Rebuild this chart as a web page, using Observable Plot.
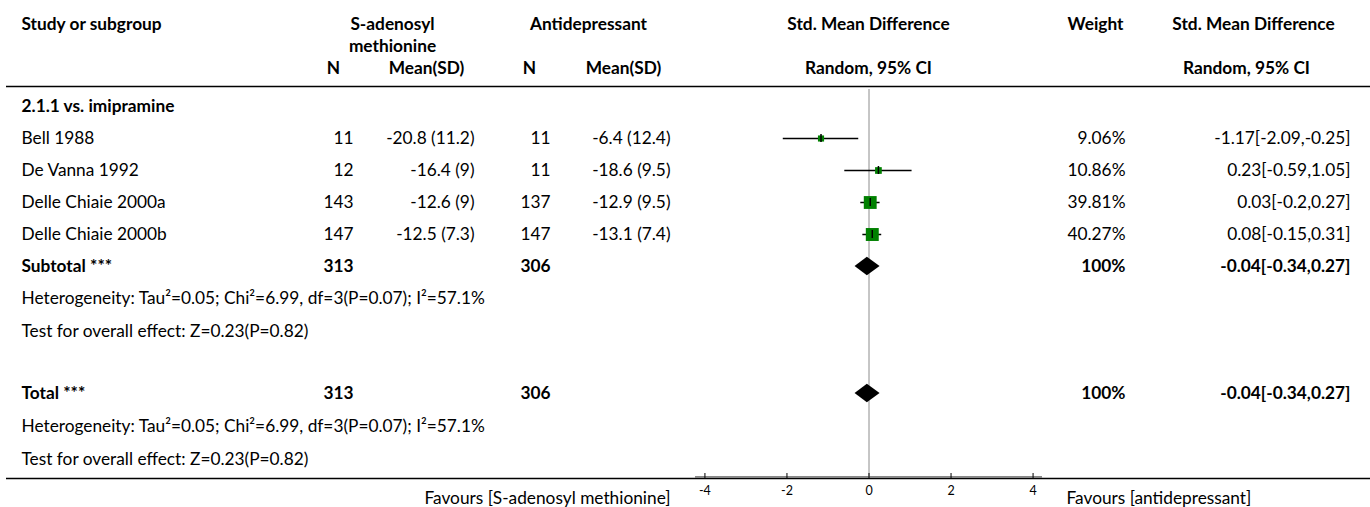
<!DOCTYPE html>
<html>
<head>
<meta charset="utf-8">
<script src="https://cdn.jsdelivr.net/npm/d3@7"></script>
<script src="https://cdn.jsdelivr.net/npm/@observablehq/plot@0.6"></script>
<style>
  html, body { margin: 0; padding: 0; background: #fff; }
  svg { display: block; }
</style>
</head>
<body>
<div id="chart"></div>
<script>
// ---------------- data ----------------
const subgroupLabel = "2.1.1 vs. imipramine";
const studies   = ["Bell 1988", "De Vanna 1992", "Delle Chiaie 2000a", "Delle Chiaie 2000b"];
const nSame     = [11, 12, 143, 147];
const meanSame  = [-20.8, -16.4, -12.6, -12.5];
const sdSame    = [11.2, 9, 9, 7.3];
const nAnti     = [11, 11, 137, 147];
const meanAnti  = [-6.4, -18.6, -12.9, -13.1];
const sdAnti    = [12.4, 9.5, 9.5, 7.4];
const weights   = [9.06, 10.86, 39.81, 40.27];
const smd       = [-1.17, 0.23, 0.03, 0.08];
const ciLow     = [-2.09, -0.59, -0.2, -0.15];
const ciHigh    = [-0.25, 1.05, 0.27, 0.31];

const pooledLabels = ["Subtotal ***", "Total ***"];
const pooledNSame  = [313, 313];
const pooledNAnti  = [306, 306];
const pooledWeight = [100, 100];
const pooledSmd    = [-0.04, -0.04];
const pooledLow    = [-0.34, -0.34];
const pooledHigh   = [0.27, 0.27];
const heterogeneityText = "Heterogeneity: Tau\u00b2=0.05; Chi\u00b2=6.99, df=3(P=0.07); I\u00b2=57.1%";
const overallEffectText = "Test for overall effect: Z=0.23(P=0.82)";

const headerTop    = ["Study or subgroup", "S-adenosyl", "Antidepressant", "Std. Mean Difference", "Weight", "Std. Mean Difference"];
const headerSecond = ["methionine"];
const headerSub    = ["N", "Mean(SD)", "N", "Mean(SD)", "Random, 95% CI", "Random, 95% CI"];
const xTicks       = [-4, -2, 0, 2, 4];
const xDomain      = [-4.23, 4.23];
const favoursLabels = ["Favours [S-adenosyl methionine]", "Favours [antidepressant]"];

// ---------------- layout ----------------
const W = 1370, H = 507;
const ROW = 32, ROW0 = 106, AXIS_PX = 478;
const rowOf = px => (px - ROW0) / ROW;
const axisRow = rowOf(AXIS_PX);
const hdr1 = rowOf(23.5), hdr2 = rowOf(45.5), hdr3 = rowOf(68), hdrLine = rowOf(86);
const FS = 17.3;
const FONT = "Lato, 'Noto Sans', sans-serif";

const studyData = studies.map((s, i) => ({
  row: i + 1, label: s,
  n1: String(nSame[i]), m1: `${meanSame[i]} (${sdSame[i]})`,
  n2: String(nAnti[i]), m2: `${meanAnti[i]} (${sdAnti[i]})`,
  weight: weights[i], wtxt: `${weights[i]}%`,
  smd: smd[i], lo: ciLow[i], hi: ciHigh[i],
  ci: `${smd[i]}[${ciLow[i]},${ciHigh[i]}]`
}));
const totalRow = rowOf(393);
const pooledRows = [5, totalRow];
const pooledData = pooledLabels.map((l, j) => ({
  row: pooledRows[j], label: l,
  n1: String(pooledNSame[j]), n2: String(pooledNAnti[j]),
  wtxt: `${pooledWeight[j]}%`,
  smd: pooledSmd[j], lo: pooledLow[j], hi: pooledHigh[j],
  ci: `${pooledSmd[j]}[${pooledLow[j]},${pooledHigh[j]}]`
}));
const lowerStep = 33 / ROW;
const noteData = [
  {row: 6, text: heterogeneityText}, {row: rowOf(331), text: overallEffectText},
  {row: totalRow + lowerStep, text: heterogeneityText}, {row: totalRow + 2 * lowerStep, text: overallEffectText}
];
const DH = 9.3 / ROW; // diamond half height in rows
const diamondPts = pooledData.flatMap((d, j) => [
  {z: j, y: d.row - DH, x1: d.smd, x2: d.smd},
  {z: j, y: d.row,      x1: d.lo,  x2: d.hi},
  {z: j, y: d.row + DH, x1: d.smd, x2: d.smd}
]);

function txt(data, {y, text, x, anchor = "start", weight = "normal", size = FS}) {
  return Plot.text(data, {
    y, text, frameAnchor: "left", dx: x, textAnchor: anchor,
    fontWeight: weight, fontSize: size, fill: "#000"
  });
}
const one = [0];

const chart = Plot.plot({
  width: W, height: H,
  marginLeft: 0, marginRight: 0, marginTop: 0, marginBottom: H - AXIS_PX,
  x: {domain: xDomain, range: [695, 1042], label: null},
  y: {domain: [rowOf(0), axisRow], range: [0, AXIS_PX], axis: null},
  r: {type: "sqrt", domain: [0, d3.max(weights)], range: [0, 7.3]},
  style: {fontFamily: FONT, fontSize: FS + "px", color: "#000", background: "#fff"},
  marks: [
    // zero line
    Plot.ruleX([0], {y1: rowOf(89), y2: axisRow, stroke: "#8c8c8c", strokeWidth: 1}),
    // header and bottom lines
    Plot.ruleY([hdrLine], {stroke: "#000", strokeWidth: 1.5, insetLeft: 6}),
    Plot.ruleY([axisRow], {stroke: "#000", strokeWidth: 1.5, insetLeft: 6}),
    Plot.ruleY([axisRow], {x1: xDomain[0], x2: xDomain[1], stroke: "#888", strokeWidth: 2, dy: -1.5}),
    // ticks & labels
    Plot.ruleX(xTicks, {x: d => d, y1: axisRow - 5 / ROW, y2: axisRow, stroke: "#000", strokeWidth: 1}),
    Plot.axisX({ticks: xTicks, tickSize: 0, tickPadding: 8, fontSize: 12.5, label: null,
                tickFormat: d => String(d), anchor: "bottom"}),
    // study CIs and squares
    Plot.ruleY(studyData, {y: "row", x1: "lo", x2: "hi", stroke: "#000", strokeWidth: 1.5}),
    Plot.dot(studyData, {x: "smd", y: "row", r: "weight", symbol: "square", fill: "#008000", stroke: "none"}),
    Plot.ruleX(studyData, {x: "smd", y1: d => d.row - 4 / ROW, y2: d => d.row + 4 / ROW, stroke: "#000", strokeWidth: 1.5}),
    // diamonds
    Plot.areaX(diamondPts, {y: "y", x1: "x1", x2: "x2", z: "z", fill: "#000", curve: "linear"}),
    // header texts
    txt(one, {y: hdr1, text: () => headerTop[0], x: 21, weight: "bold"}),
    txt(one, {y: hdr1, text: () => headerTop[1], x: 392, anchor: "middle", weight: "bold"}),
    txt(one, {y: hdr2, text: () => headerSecond[0], x: 392, anchor: "middle", weight: "bold"}),
    txt(one, {y: hdr1, text: () => headerTop[2], x: 588, anchor: "middle", weight: "bold"}),
    txt(one, {y: hdr1, text: () => headerTop[3], x: 868, anchor: "middle", weight: "bold"}),
    txt(one, {y: hdr1, text: () => headerTop[4], x: 1123, anchor: "end", weight: "bold"}),
    txt(one, {y: hdr1, text: () => headerTop[5], x: 1253, anchor: "middle", weight: "bold"}),
    txt(one, {y: hdr3, text: () => headerSub[0], x: 333, anchor: "middle", weight: "bold"}),
    txt(one, {y: hdr3, text: () => headerSub[1], x: 426, anchor: "middle", weight: "bold"}),
    txt(one, {y: hdr3, text: () => headerSub[2], x: 529, anchor: "middle", weight: "bold"}),
    txt(one, {y: hdr3, text: () => headerSub[3], x: 623, anchor: "middle", weight: "bold"}),
    txt(one, {y: hdr3, text: () => headerSub[4], x: 868, anchor: "middle", weight: "bold"}),
    txt(one, {y: hdr3, text: () => headerSub[5], x: 1246, anchor: "middle", weight: "bold"}),
    // subgroup
    txt(one, {y: 0, text: () => subgroupLabel, x: 21, weight: "bold"}),
    // study rows
    txt(studyData, {y: "row", text: "label", x: 21}),
    txt(studyData, {y: "row", text: "n1", x: 353, anchor: "end"}),
    txt(studyData, {y: "row", text: "m1", x: 474, anchor: "end"}),
    txt(studyData, {y: "row", text: "n2", x: 550, anchor: "end"}),
    txt(studyData, {y: "row", text: "m2", x: 670, anchor: "end"}),
    txt(studyData, {y: "row", text: "wtxt", x: 1125, anchor: "end"}),
    txt(studyData, {y: "row", text: "ci", x: 1350, anchor: "end"}),
    // pooled rows
    txt(pooledData, {y: "row", text: "label", x: 21, weight: "bold"}),
    txt(pooledData, {y: "row", text: "n1", x: 353, anchor: "end", weight: "bold"}),
    txt(pooledData, {y: "row", text: "n2", x: 550, anchor: "end", weight: "bold"}),
    txt(pooledData, {y: "row", text: "wtxt", x: 1125, anchor: "end", weight: "bold"}),
    txt(pooledData, {y: "row", text: "ci", x: 1350, anchor: "end", weight: "bold"}),
    // notes
    txt(noteData, {y: "row", text: "text", x: 21}),
    // favours
    txt(one, {y: rowOf(498), text: () => favoursLabels[0], x: 670, anchor: "end"}),
    txt(one, {y: rowOf(498), text: () => favoursLabels[1], x: 1066})
  ]
});
document.getElementById("chart").appendChild(chart);
</script>
</body>
</html>
